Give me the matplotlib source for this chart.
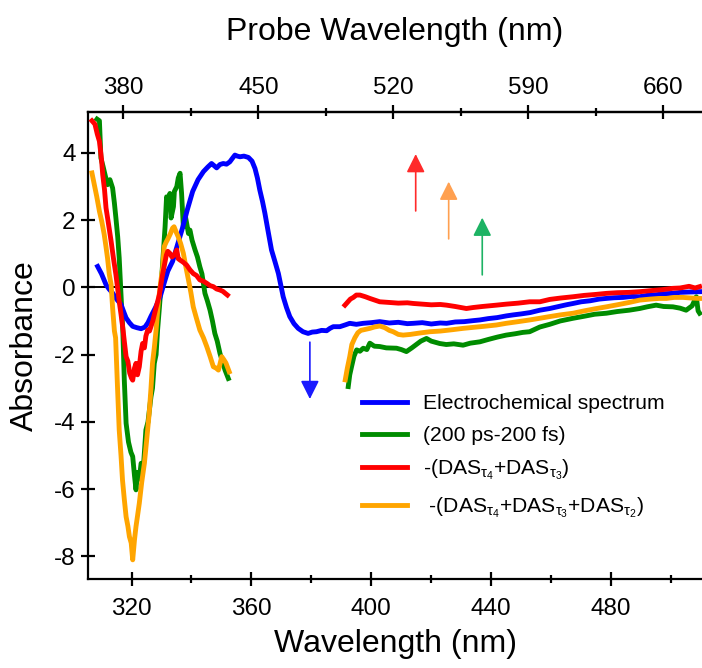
import numpy as np
import matplotlib
matplotlib.use('Agg')
import matplotlib.pyplot as plt
from matplotlib.ticker import MultipleLocator, FixedLocator

plt.rcParams['font.family'] = ['Liberation Sans', 'DejaVu Sans']
plt.rcParams['mathtext.fontset'] = 'custom'
plt.rcParams['mathtext.rm'] = 'Liberation Sans'
plt.rcParams['mathtext.it'] = 'Liberation Sans'

# electrochemical spectrum (blue), continuous
blue_x = [308.7, 310.0, 311.5, 312.5, 313.7, 315.0, 316.5, 317.5, 318.2, 319.3, 320.4, 321.8,
          323.2, 324.5, 325.5, 326.5, 328.0, 329.5, 330.8, 332.1, 333.7, 335.3, 337.0, 338.6,
          340.4, 342.2, 344.0, 345.5, 346.7, 347.5, 348.4, 349.5, 350.6, 351.7, 352.8, 353.8,
          354.5, 355.3, 356.2, 357.5, 359.0, 360.2, 361.2, 362.0, 362.8, 363.7, 364.5, 365.6,
          366.7, 367.9, 369.0, 370.6, 371.7, 372.8, 374.2, 375.6, 377.2, 378.9, 380.3, 381.7,
          383.4, 385.1, 386.2, 387.3, 389.5, 391.2, 392.8, 395.0, 397.3, 400.0, 402.8, 406.0,
          409.0, 412.0, 414.0, 417.0, 420.0, 423.0, 425.1, 428.0, 431.0, 434.0, 436.2, 439.0,
          442.0, 445.0, 447.3, 450.0, 453.0, 456.2, 459.5, 462.0, 465.0, 467.3, 470.0, 473.0,
          476.0, 478.4, 481.0, 484.0, 487.0, 489.5, 492.0, 495.0, 498.0, 500.6, 503.0, 506.0, 509.5]
blue_y = [0.62, 0.40, 0.08, -0.05, -0.17, -0.35, -0.51, -0.75, -0.91, -1.05, -1.16, -1.20,
          -1.23, -1.18, -1.05, -0.86, -0.60, -0.30, 0.10, 0.48, 0.77, 1.25, 1.76, 2.30,
          2.85, 3.20, 3.44, 3.58, 3.68, 3.62, 3.55, 3.65, 3.68, 3.66, 3.73, 3.85,
          3.93, 3.90, 3.88, 3.90, 3.86, 3.75, 3.53, 3.25, 2.89, 2.55, 2.20, 1.65,
          1.11, 0.75, 0.41, -0.28, -0.60, -0.87, -1.08, -1.22, -1.32, -1.37, -1.33, -1.32,
          -1.28, -1.29, -1.22, -1.17, -1.17, -1.12, -1.07, -1.10, -1.07, -1.05, -1.02, -1.06,
          -1.04, -1.08, -1.07, -1.05, -1.09, -1.06, -1.07, -1.03, -1.02, -0.99, -0.97, -0.93,
          -0.90, -0.85, -0.82, -0.79, -0.75, -0.68, -0.63, -0.58, -0.52, -0.48, -0.43, -0.40,
          -0.35, -0.33, -0.31, -0.30, -0.27, -0.28, -0.24, -0.22, -0.19, -0.18, -0.15, -0.14, -0.13]

# (200 ps-200 fs) green, two segments
green_x1 = [308.5, 309.3, 309.8, 310.5, 311.3, 312.0, 312.8, 313.7, 314.3, 314.8, 315.4, 315.9,
            316.5, 317.1, 317.6, 318.2, 319.0, 319.8, 320.4, 321.0, 321.5, 322.0, 322.6, 323.2,
            324.0, 324.8, 325.5, 326.5, 327.0, 327.6, 328.2, 328.7, 329.3, 330.0, 330.6, 331.2,
            331.7, 332.1, 332.8, 333.2, 334.0, 334.3, 335.1, 335.6, 336.2, 336.7, 337.3, 338.0,
            338.4, 339.0, 339.5, 340.2, 341.2, 342.0, 342.8, 343.5, 344.5, 345.3, 346.2, 347.0,
            347.8, 348.6, 349.5, 350.3, 351.2, 352.3]
green_y1 = [5.00, 4.95, 3.84, 3.60, 3.30, 3.05, 3.20, 2.95, 2.50, 2.06, 1.50, 0.87,
            -0.22, -1.27, -2.76, -4.04, -4.60, -4.90, -5.03, -5.60, -6.02, -5.50, -5.70, -5.23,
            -5.30, -4.24, -4.00, -3.25, -3.00, -2.26, -2.00, -1.27, -0.61, 0.20, 1.00, 1.80,
            2.69, 2.40, 2.79, 2.06, 2.40, 2.85, 2.99, 3.25, 3.39, 2.80, 1.80, 2.10,
            1.90, 1.60, 1.70, 1.40, 1.11, 0.90, 0.61, 0.40, -0.18, -0.40, -0.68, -1.00,
            -1.37, -1.60, -1.96, -2.20, -2.46, -2.71]
green_x2 = [392.3, 392.8, 393.4, 394.2, 395.1, 396.2, 397.3, 398.5, 399.5, 401.0, 402.8, 405.0,
            408.4, 410.0, 411.7, 413.5, 415.0, 416.5, 418.4, 420.0, 422.8, 425.0, 427.5, 430.6,
            433.0, 436.2, 439.0, 442.0, 445.0, 448.0, 450.5, 452.8, 456.2, 459.5, 463.0, 467.3,
            471.0, 474.5, 478.4, 482.0, 486.0, 489.5, 492.0, 495.0, 497.5, 500.6, 503.0, 505.0,
            507.0, 508.4, 509.0, 509.5]
green_y2 = [-2.95, -2.60, -2.36, -2.05, -1.86, -1.90, -1.81, -1.85, -1.66, -1.75, -1.76, -1.80,
            -1.81, -1.85, -1.91, -1.80, -1.70, -1.60, -1.52, -1.60, -1.67, -1.70, -1.68, -1.72,
            -1.66, -1.62, -1.55, -1.48, -1.42, -1.38, -1.34, -1.32, -1.18, -1.10, -1.00, -0.92,
            -0.86, -0.80, -0.77, -0.72, -0.68, -0.63, -0.58, -0.53, -0.57, -0.58, -0.62, -0.68,
            -0.55, -0.28, -0.70, -0.77]

# -(DAS t4 + DAS t3) red
red_x1 = [306.8, 307.8, 308.6, 309.3, 310.0, 310.4, 311.0, 311.5, 312.3, 313.2, 314.0, 314.8,
          315.4, 315.9, 316.5, 317.1, 317.6, 318.2, 318.8, 319.4, 320.0, 320.4, 321.0, 321.5,
          322.0, 322.6, 323.2, 323.7, 324.3, 324.8, 325.4, 326.0, 327.1, 328.2, 329.3, 330.2,
          331.0, 331.6, 332.1, 332.8, 333.5, 334.3, 335.1, 335.6, 336.2, 337.2, 338.4, 339.5,
          340.6, 341.7, 342.8, 344.0, 345.1, 346.2, 347.3, 348.4, 349.5, 350.5, 351.3, 352.0]
red_y1 = [4.95, 4.85, 4.55, 4.34, 3.80, 3.35, 2.90, 2.36, 1.90, 1.37, 0.85, 0.38,
          -0.05, -0.42, -0.80, -1.21, -1.60, -2.06, -2.20, -2.55, -2.70, -2.76, -2.40, -2.26,
          -2.60, -2.36, -1.90, -1.67, -1.80, -1.45, -1.27, -1.30, -1.00, -0.60, -0.22, 0.30,
          0.67, 0.95, 1.07, 1.01, 0.90, 0.97, 1.11, 0.85, 0.81, 0.75, 0.66, 0.52,
          0.41, 0.35, 0.22, 0.18, 0.12, 0.05, 0.02, -0.05, -0.08, -0.12, -0.18, -0.23]
red_x2 = [391.2, 392.0, 393.0, 394.0, 395.0, 396.2, 398.0, 399.5, 402.8, 406.0, 409.0, 412.0,
          414.0, 417.0, 420.0, 423.0, 425.1, 428.0, 431.7, 434.0, 437.0, 441.7, 445.0, 449.0,
          452.8, 456.2, 459.5, 463.0, 467.3, 471.0, 475.0, 478.4, 482.0, 486.0, 489.5, 493.0,
          497.0, 500.6, 503.0, 506.0, 508.0, 509.5]
red_y2 = [-0.53, -0.45, -0.35, -0.30, -0.23, -0.23, -0.28, -0.33, -0.43, -0.45, -0.47, -0.46,
          -0.48, -0.50, -0.52, -0.51, -0.53, -0.57, -0.63, -0.60, -0.57, -0.53, -0.50, -0.47,
          -0.43, -0.43, -0.36, -0.32, -0.28, -0.24, -0.21, -0.18, -0.16, -0.15, -0.13, -0.10,
          -0.07, -0.03, -0.02, 0.03, -0.02, 0.02]

# -(DAS t4 + DAS t3 + DAS t2) orange
orange_x1 = [306.8, 307.6, 308.4, 309.3, 310.1, 310.9, 311.5, 312.0, 312.6, 313.2, 313.7, 314.3,
             314.7, 315.3, 315.9, 316.5, 317.0, 317.6, 318.2, 318.8, 319.3, 319.9, 320.4, 321.0,
             321.5, 322.0, 322.6, 323.4, 324.3, 325.1, 325.9, 326.5, 327.0, 327.6, 328.2, 329.0,
             329.8, 330.4, 330.9, 331.6, 332.2, 333.0, 333.7, 334.2, 335.0, 335.6, 336.4, 337.3,
             338.2, 339.0, 339.8, 340.6, 341.6, 342.8, 344.0, 345.1, 346.2, 347.3, 348.2, 349.0,
             349.6, 350.1, 350.8, 351.5, 352.6]
orange_y1 = [3.40, 3.05, 2.70, 2.26, 1.95, 1.57, 1.20, 0.87, 0.38, 0.08, -0.61, -1.30,
             -1.50, -2.90, -4.24, -5.00, -5.73, -6.30, -6.82, -7.10, -7.41, -7.60, -8.10, -7.50,
             -7.11, -6.80, -6.42, -5.80, -5.23, -4.50, -3.75, -3.00, -2.26, -1.80, -1.27, -0.40,
             0.20, 0.58, 1.21, 1.35, 1.45, 1.60, 1.76, 1.80, 1.62, 1.50, 1.30, 1.01,
             0.58, 0.22, -0.15, -0.58, -0.90, -1.27, -1.50, -1.76, -2.05, -2.36, -2.40, -2.46,
             -2.25, -2.06, -2.15, -2.25, -2.51]
orange_x2 = [391.3, 392.0, 392.8, 393.5, 394.5, 395.5, 396.5, 398.0, 399.5, 401.0, 402.8, 404.5,
             406.0, 407.3, 409.0, 410.6, 413.0, 416.0, 419.5, 423.0, 427.0, 430.6, 434.0, 437.5,
             441.7, 445.0, 449.0, 452.8, 456.2, 459.5, 463.0, 467.3, 471.0, 474.5, 478.4, 482.0,
             486.0, 489.5, 493.0, 496.0, 498.4, 501.0, 504.0, 507.0, 509.5]
orange_y2 = [-2.75, -2.40, -2.06, -1.70, -1.50, -1.35, -1.28, -1.25, -1.22, -1.18, -1.15, -1.20,
             -1.28, -1.32, -1.40, -1.42, -1.40, -1.36, -1.32, -1.30, -1.26, -1.22, -1.19, -1.16,
             -1.12, -1.07, -1.02, -0.97, -0.92, -0.87, -0.82, -0.77, -0.70, -0.64, -0.58, -0.52,
             -0.45, -0.38, -0.35, -0.33, -0.33, -0.30, -0.30, -0.32, -0.33]

# arrows: (x, y_start, y_end, colour)
arrows = [(414.8, 2.27, 3.96, '#ff2a2a'),
          (425.8, 1.44, 3.14, '#ffa050'),
          (437.0, 0.37, 2.07, '#1db364'),
          (379.5, -1.63, -3.32, '#1a1aff')]

labels = ['Electrochemical spectrum', '(200 ps-200 fs)',
          r'-(DAS$_{\tau_4}$+DAS$_{\tau_3}$)',
          r' -(DAS$_{\tau_4}$+DAS$_{\tau_3}$+DAS$_{\tau_2}$)']

c_blue, c_green, c_red, c_orange = '#0000ff', '#008c00', '#ff0000', '#ffa500'
lw = 3.5

fig = plt.figure(figsize=(7.02, 6.68), dpi=100)
ax = fig.add_axes([0.1254, 0.1332, 0.8746, 0.6996])

ax.axhline(0, color='k', lw=1.4, zorder=1)
l1, = ax.plot(blue_x, blue_y, color=c_blue, lw=lw, zorder=3)
l2, = ax.plot(green_x1, green_y1, color=c_green, lw=lw, zorder=2)
ax.plot(green_x2, green_y2, color=c_green, lw=lw, zorder=2)
l3, = ax.plot(red_x1, red_y1, color=c_red, lw=lw, zorder=5)
ax.plot(red_x2, red_y2, color=c_red, lw=lw, zorder=5)
l4, = ax.plot(orange_x1, orange_y1, color=c_orange, lw=lw, zorder=4)
ax.plot(orange_x2, orange_y2, color=c_orange, lw=lw, zorder=4)

for x, y0, y1, col in arrows:
    ax.annotate('', xy=(x, y1), xytext=(x, y0),
                arrowprops=dict(arrowstyle='-|>,head_width=0.4,head_length=0.8',
                                mutation_scale=14, color=col, lw=1.2,
                                shrinkA=0, shrinkB=0))

ax.set_xlim(305.5, 510.3)
ax.set_ylim(-8.67, 5.22)
ax.xaxis.set_major_locator(MultipleLocator(40))
ax.xaxis.set_minor_locator(FixedLocator([340, 380, 420, 460, 500]))
ax.set_yticks([-8, -6, -4, -2, 0, 2, 4])
ax.set_yticklabels(['-8', '-6', '-4', '-2', '0', '2', '4'])

for s in ['left', 'bottom', 'top']:
    ax.spines[s].set_linewidth(1.6)
ax.spines['right'].set_visible(False)
ax.tick_params(axis='both', which='major', direction='inout', length=10, width=1.6,
               labelsize=17.5, pad=4)
ax.tick_params(axis='x', which='major', pad=9)
ax.tick_params(axis='x', which='minor', direction='inout', length=6, width=1.6)
ax.tick_params(axis='x', which='both', top=False)

ax.set_xlabel('Wavelength (nm)', fontsize=23, labelpad=6)
ax.set_ylabel('Absorbance', fontsize=23, labelpad=10)


def fwd(x):
    return 380 + (np.asarray(x) - 317.33) * 1.5558


def inv(p):
    return 317.33 + (np.asarray(p) - 380) / 1.5558


top = ax.secondary_xaxis('top', functions=(fwd, inv))
top.set_xticks([380, 450, 520, 590, 660])
top.xaxis.set_minor_locator(FixedLocator([415, 485, 555, 625]))
top.tick_params(axis='x', which='major', direction='inout', length=10, width=1.6,
                labelsize=17.5, pad=4)
top.tick_params(axis='x', which='minor', direction='inout', length=6, width=1.6)
top.spines['top'].set_linewidth(1.6)
top.set_xlabel('Probe Wavelength (nm)', fontsize=23, labelpad=27)

ax.legend([l1, l2, l3, l4], labels, loc='upper left', bbox_to_anchor=(0.446, 0.395),
          frameon=False, fontsize=15.2, handlelength=2.15, handletextpad=0.75,
          labelspacing=0.6, borderpad=0, borderaxespad=0)

fig.savefig('out.png', dpi=100)
